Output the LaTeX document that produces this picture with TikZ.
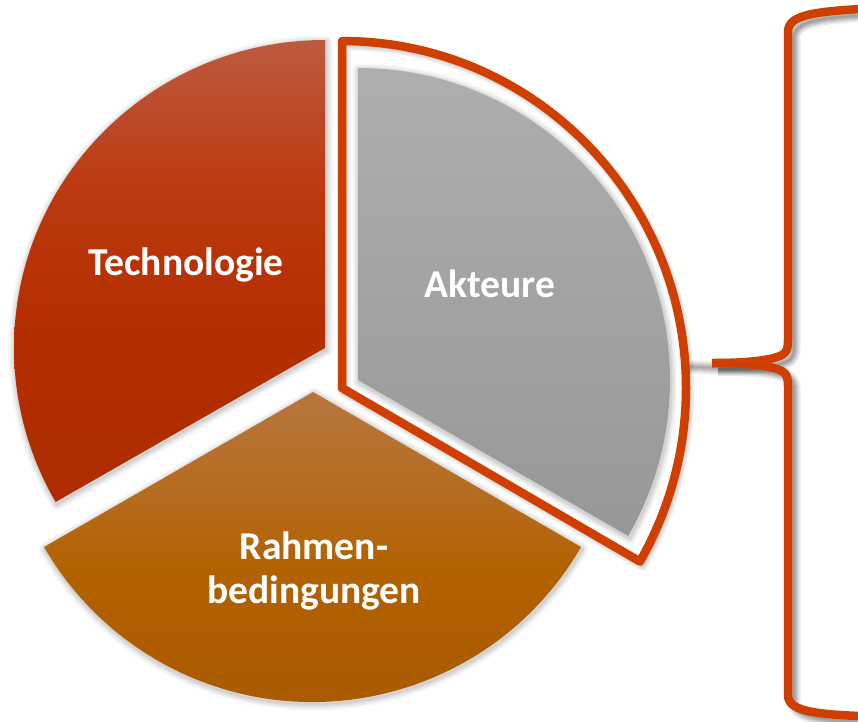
\documentclass[tikz,border=0pt]{standalone}
\usepackage{fontspec}
\setmainfont{Carlito}
\definecolor{braceor}{HTML}{CF4000}
\definecolor{ta}{HTML}{AE2C00}\definecolor{tb}{HTML}{B42E00}\definecolor{tc}{HTML}{BC3A10}\definecolor{td}{HTML}{BC5A40}
\definecolor{ra}{HTML}{A85800}\definecolor{rb}{HTML}{B26200}\definecolor{rc}{HTML}{B56C20}\definecolor{rd}{HTML}{B8763D}
\definecolor{aa}{HTML}{979797}\definecolor{ab}{HTML}{AEAEAE}
\pgfdeclareverticalshading{techshade}{100bp}{
  color(0bp)=(ta); color(25bp)=(ta); color(44bp)=(tb); color(59bp)=(tc); color(75bp)=(td); color(100bp)=(td)}
\pgfdeclareverticalshading{rahmshade}{100bp}{
  color(0bp)=(ra); color(25bp)=(ra); color(50bp)=(rb); color(61bp)=(rc); color(75bp)=(rd); color(100bp)=(rd)}
\pgfdeclareverticalshading{aktshade}{100bp}{
  color(0bp)=(aa); color(25bp)=(aa); color(75bp)=(ab); color(100bp)=(ab)}
\tikzset{
  x=1pt,y=-1pt,
  techsec/.style={shading=techshade},
  rahmsec/.style={shading=rahmshade},
  aktsec/.style={shading=aktshade},
  lbl/.style={text=white,font=\bfseries\fontsize{39.5}{44}\selectfont,align=center,inner sep=0pt},
  ortline/.style={draw=braceor,line width=8.5pt,line join=round},
}
% soft shadow: #1 offset, #2 path, #3 strength
\newcommand{\softshadow}[3]{%
  \foreach \w/\o in {14/.025,12/.03,10/.035,8/.04,6/.05,4/.05,2/.05}{
    \draw[black,opacity=\o*#3,line width=\w pt,line join=round,shift={#1}] #2;
  }}
\def\techpath{(325,348) -- (325,40) arc[start angle=-90,end angle=-210,x radius=311,y radius=308] -- cycle}
\def\aktpath{(358,380) -- (358,68) arc[start angle=-90,end angle=30,radius=312] -- cycle}
\def\rahmpath{(313,392) -- (581,547) arc[start angle=30,end angle=150,radius=310] -- cycle}
\def\outlinepath{(342,388) -- (342,41) arc[start angle=-90,end angle=30,x radius=344,y radius=347] -- cycle}
\def\bracepath{(712,363) .. controls (750,363) and (772,360) .. (782,355) .. controls (787,352) and (788,348) .. (788,340) -- (788,32) .. controls (788,16) and (810,12) .. (860,9)}
\def\braceb{(712,363) .. controls (750,363) and (772,366) .. (782,371) .. controls (787,374) and (788,378) .. (788,386) -- (788,695) .. controls (788,710) and (810,714) .. (860,716)}
\begin{document}
\begin{tikzpicture}
\useasboundingbox (0,0) rectangle (858,721);
\softshadow{(1pt,-2pt)}{\techpath}{.7}
\softshadow{(1pt,-2pt)}{\aktpath}{.7}
\softshadow{(1pt,-2pt)}{\rahmpath}{.7}
\softshadow{(2pt,-3pt)}{\outlinepath}{1}
\softshadow{(0pt,0pt)}{(688,367) -- (718,368)}{1.4}
\softshadow{(6pt,-6pt)}{\bracepath}{1.6}
\softshadow{(6pt,-6pt)}{\braceb}{1.6}
\shade[techsec] \techpath;
\shade[aktsec] \aktpath;
\shade[rahmsec] \rahmpath;
\path[ortline] \outlinepath;
\path[ortline] \bracepath;
\path[ortline] \braceb;
\node[lbl] (tech) at (186,265) {Technologie};
\node[lbl] (akt) at (490,284) {Akteure};
\node[lbl] (rahm) at (314,571) {Rahmen-\\bedingungen};
\end{tikzpicture}
\end{document}
